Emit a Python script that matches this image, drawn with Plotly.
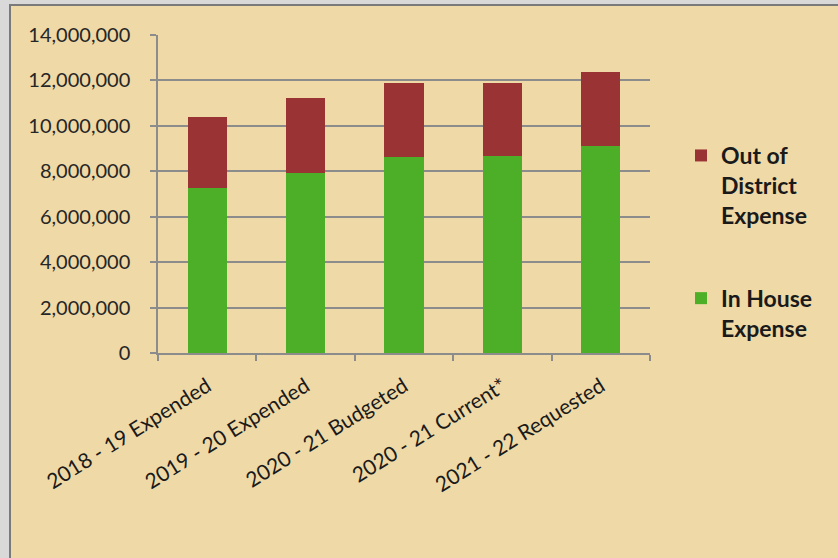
import plotly.graph_objects as go

categories = ["2018 - 19 Expended", "2019 - 20 Expended", "2020 - 21 Budgeted",
              "2020 - 21 Current*", "2021 - 22 Requested"]
in_house = [7250000, 7910000, 8640000, 8670000, 9110000]
out_of_district = [3150000, 3320000, 3250000, 3200000, 3250000]
y_ticks = [0, 2000000, 4000000, 6000000, 8000000, 10000000, 12000000, 14000000]

GREEN = "#4daf27"
RED = "#9a3434"
FONT = "Lato"

fig = go.Figure()
fig.add_trace(go.Bar(x=categories, y=in_house, name="In House<br>Expense",
                     marker=dict(color=GREEN, line=dict(width=0)),
                     legendgroup="b", legendrank=2))
fig.add_trace(go.Bar(x=categories, y=out_of_district, name="Out of<br>District<br>Expense",
                     marker=dict(color=RED, line=dict(width=0)),
                     legendgroup="a", legendrank=1))

L, R, T, B = 158, 188, 35, 205
pw = 838 - L - R
ph = 558 - T - B

def px2x(px):
    return (px - L) / pw

def py2y(py):
    return (558 - B - py) / ph

fig.update_layout(
    width=838, height=558,
    margin=dict(l=L, r=R, t=T, b=B, pad=0),
    barmode="stack", bargap=0.6,
    paper_bgcolor="#d9d9d9",
    plot_bgcolor="rgba(0,0,0,0)",
    font=dict(family=FONT, color="#262626"),
    showlegend=True,
    legend=dict(x=px2x(681), y=py2y(134), xanchor="left", yanchor="top",
                traceorder="grouped", tracegroupgap=50, valign="top",
                font=dict(family=FONT, size=23, color="#1a1a1a", weight="bold"),
                bgcolor="rgba(0,0,0,0)"),
    xaxis=dict(type="category", tickson="boundaries", ticks="outside", ticklen=6,
               tickcolor="#8c8c8c", tickwidth=1.5, showline=True, linecolor="#8c8c8c",
               linewidth=2, tickangle=-32, ticklabelstandoff=11,
               tickfont=dict(family=FONT, size=21, color="#1a1a1a"),
               showgrid=False),
    yaxis=dict(range=[0, 14000000], tickvals=y_ticks, tickformat=",d",
               showgrid=True, gridcolor="#8c8c8c", gridwidth=1.5,
               showline=True, linecolor="#8c8c8c", linewidth=1.5,
               ticks="outside", ticklen=6, tickcolor="#8c8c8c", tickwidth=1.5,
               ticklabelstandoff=16,
               tickfont=dict(family=FONT, size=20, color="#262626"),
               zeroline=False),
    shapes=[dict(type="rect", xref="paper", yref="paper", layer="below",
                 x0=px2x(10), x1=px2x(845), y0=py2y(565), y1=py2y(5),
                 fillcolor="#efd9a6", line=dict(color="#7a7a7a", width=2))],
)

fig.write_html("out.html")
